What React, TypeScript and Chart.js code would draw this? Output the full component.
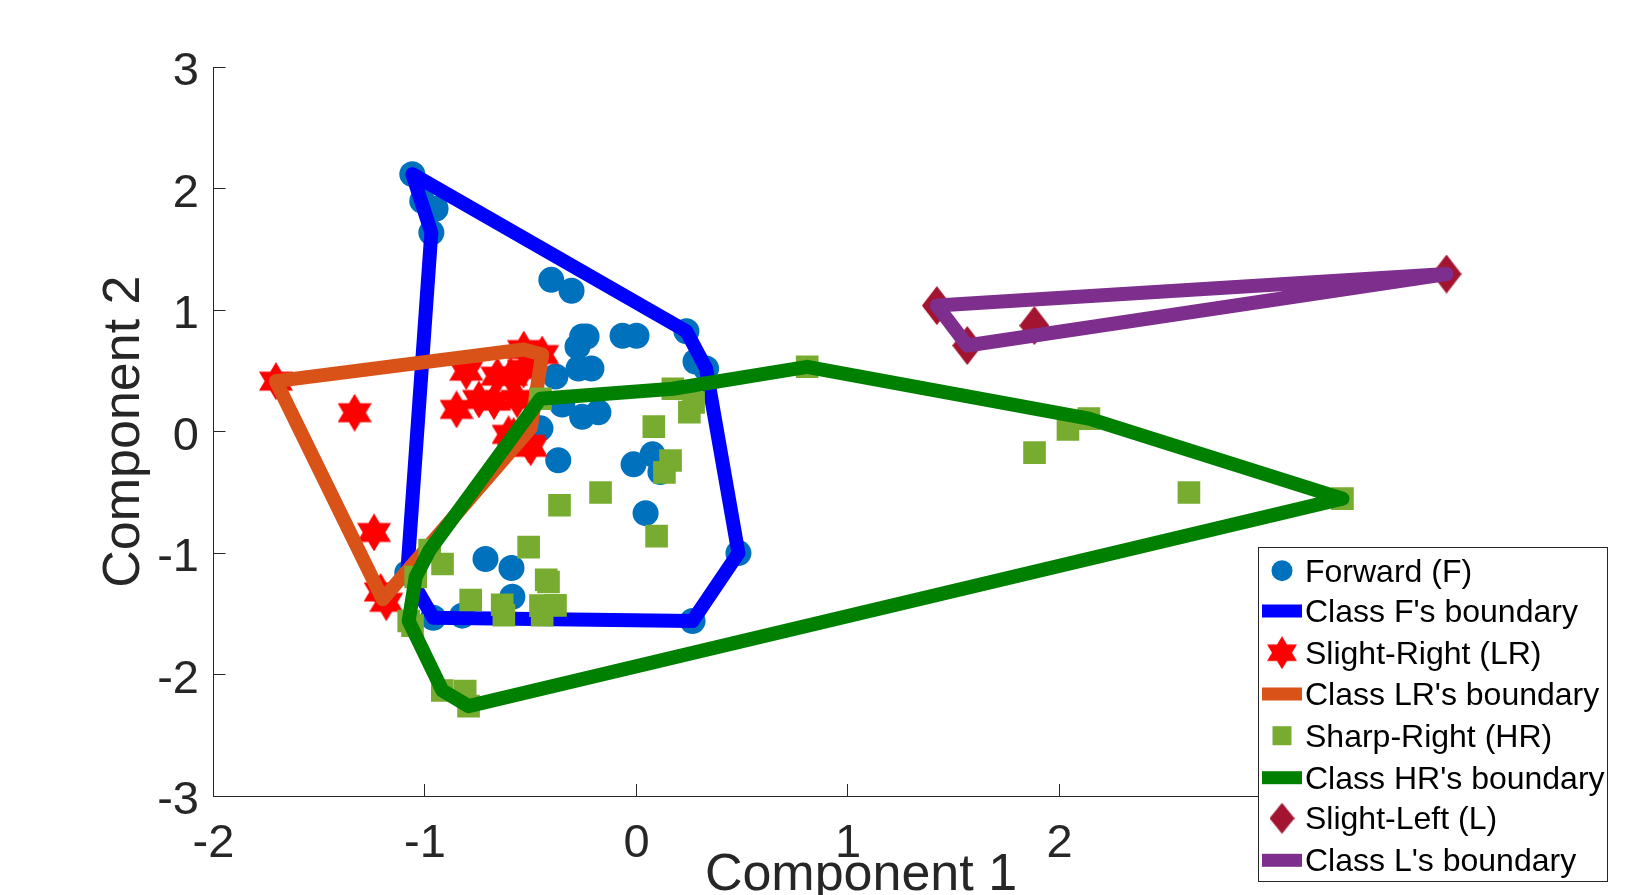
import { useEffect, useRef } from 'react';
import { Chart, registerables } from 'chart.js';
Chart.register(...registerables);

const forwardPts = [
  [-1.06, 2.12], [-1.013, 1.9], [-0.95, 1.835], [-0.97, 1.64], [-0.403, 1.25], [-0.307, 1.16],
  [-0.257, 0.783], [-0.236, 0.783], [-0.279, 0.7], [-0.274, 0.52], [-0.213, 0.52], [-0.383, 0.454],
  [-0.066, 0.79], [0, 0.79], [0.236, 0.827], [0.279, 0.578], [0.329, 0.52], [-0.351, 0.224],
  [-0.257, 0.123], [-0.18, 0.159], [-0.454, 0.027], [-0.37, -0.236], [-0.014, -0.269], [0.076, -0.187],
  [0.113, -0.332], [0.043, -0.671], [-0.714, -1.049], [-0.591, -1.123], [-0.587, -1.359], [-1.084, -1.164],
  [-0.961, -1.532], [-0.824, -1.515], [0.265, -1.559], [0.482, -1.0],
];
const forwardHull = [
  [-1.06, 2.12], [0.236, 0.827], [0.329, 0.52], [0.482, -1.0], [0.265, -1.559],
  [-0.961, -1.532], [-1.084, -1.164], [-0.97, 1.64], [-1.06, 2.12],
];

const slightRightPts = [
  [-1.705, 0.416], [-1.333, 0.156], [-0.805, 0.498], [-0.851, 0.183], [-0.745, 0.265], [-0.658, 0.457],
  [-0.674, 0.251], [-0.595, 0.457], [-0.564, 0.265], [-0.533, 0.676], [-0.446, 0.635], [-0.534, 0.512],
  [-0.581, -0.036], [-0.51, -0.104], [-0.5, -0.129], [-0.605, -0.022], [-1.241, -0.83], [-1.183, -1.405],
  [-1.21, -1.32],
];
const slightRightHull = [
  [-1.705, 0.416], [-0.533, 0.676], [-0.446, 0.635], [-0.5, 0.03], [-1.2, -1.38], [-1.705, 0.416],
];

const sharpRightPts = [
  [0.082, 0.041], [0.172, 0.353], [0.27, 0.24], [0.25, 0.161], [0.807, 0.534], [0.161, -0.238],
  [0.132, -0.335], [-0.17, -0.501], [-0.364, -0.606], [0.095, -0.86], [-0.51, -0.951], [-0.978, -0.975],
  [-0.917, -1.09], [-1.044, -1.197], [-0.784, -1.386], [-0.427, -1.219], [-0.416, -1.238], [-0.635, -1.425],
  [-0.627, -1.512], [-0.454, -1.433], [-0.383, -1.43], [-0.446, -1.512], [-1.077, -1.559], [-1.059, -1.597],
  [-0.918, -2.131], [-0.81, -2.136], [-0.794, -2.26], [-0.454, 0.271], [2.139, 0.107], [2.04, 0.019],
  [1.882, -0.173], [2.612, -0.501], [3.338, -0.551],
];
const sharpRightHull = [
  [-0.454, 0.271], [0.172, 0.353], [0.807, 0.534], [2.139, 0.107], [3.338, -0.551], [-0.794, -2.26],
  [-0.918, -2.131], [-1.077, -1.559], [-1.044, -1.197], [-0.978, -0.975], [-0.454, 0.271],
];

const slightLeftPts = [[1.42, 1.038], [1.564, 0.709], [1.881, 0.873], [3.83, 1.298]];
const slightLeftHull = [[1.42, 1.038], [3.83, 1.298], [1.564, 0.709], [1.42, 1.038]];

const legendLabels = [
  'Forward (F)', "Class F's boundary", 'Slight-Right (LR)', "Class LR's boundary",
  'Sharp-Right (HR)', "Class HR's boundary", 'Slight-Left (L)', "Class L's boundary",
];

const FONT = '"Liberation Sans", Arial, sans-serif';
const INK = '#262626';

const toXY = (pts: number[][]) => pts.map(([x, y]) => ({ x, y }));

function hexagram(w: number, h: number, color: string) {
  const c = document.createElement('canvas');
  c.width = w; c.height = h;
  const g = c.getContext('2d')!;
  g.fillStyle = color;
  g.beginPath();
  g.moveTo(w / 2, 0); g.lineTo(w, h * 0.75); g.lineTo(0, h * 0.75); g.closePath();
  g.moveTo(w / 2, h); g.lineTo(0, h * 0.25); g.lineTo(w, h * 0.25); g.closePath();
  g.fill();
  return c;
}

function diamond(w: number, h: number, color: string) {
  const c = document.createElement('canvas');
  c.width = w; c.height = h;
  const g = c.getContext('2d')!;
  g.fillStyle = color;
  g.beginPath();
  g.moveTo(w / 2, 0); g.lineTo(w, h / 2); g.lineTo(w / 2, h); g.lineTo(0, h / 2); g.closePath();
  g.fill();
  return c;
}

// matlab style legend box, sits on top of the axis
const legendBox = {
  id: 'legendBox',
  afterDraw(chart: any) {
    const ctx = chart.ctx;
    const left = 1258, top = 547, w = 350, h = 335;
    const rows = [570.7, 611, 652.7, 694, 735.7, 777.7, 818.3, 860.3];
    const star = hexagram(30, 33, '#FF0000');
    const dia = diamond(25, 31, '#A2142F');
    ctx.save();
    ctx.fillStyle = '#fff';
    ctx.strokeStyle = INK;
    ctx.lineWidth = 1;
    ctx.fillRect(left, top, w, h);
    ctx.strokeRect(left + 0.5, top + 0.5, w - 1, h - 1);
    ctx.font = `32px ${FONT}`;
    ctx.textBaseline = 'middle';
    legendLabels.forEach((label, i) => {
      const y = rows[i];
      const ds = chart.data.datasets[i];
      if (i % 2 === 1) {
        ctx.fillStyle = ds.borderColor;
        ctx.fillRect(1262, y - 6.5, 40, 13);
      } else if (i === 0) {
        ctx.fillStyle = ds.backgroundColor;
        ctx.beginPath();
        ctx.arc(1282, y, 10.5, 0, Math.PI * 2);
        ctx.fill();
      } else if (i === 2) {
        ctx.drawImage(star, 1267, y - 16.5);
      } else if (i === 4) {
        ctx.fillStyle = ds.backgroundColor;
        ctx.fillRect(1272.5, y - 9.5, 19, 19);
      } else {
        ctx.drawImage(dia, 1269.5, y - 15.5);
      }
      ctx.fillStyle = '#000';
      ctx.fillText(label, 1305, y + 2);
    });
    ctx.restore();
  },
};

export default function App() {
  const ref = useRef<HTMLCanvasElement>(null);

  useEffect(() => {
    const points = (label: string, pts: number[][], color: string, style: any, radius: number) => ({
      label, data: toXY(pts), showLine: false, pointStyle: style, pointRadius: radius,
      backgroundColor: color, borderColor: color, pointBorderWidth: 0,
    });
    const hull = (label: string, pts: number[][], color: string) => ({
      label, data: toXY(pts), showLine: true, pointRadius: 0, borderColor: color, backgroundColor: color,
      borderWidth: 14, borderJoinStyle: 'round', borderCapStyle: 'round', tension: 0,
    });

    const datasets: any[] = [
      points(legendLabels[0], forwardPts, '#0072BD', 'circle', 13),
      hull(legendLabels[1], forwardHull, '#0000FF'),
      points(legendLabels[2], slightRightPts, '#FF0000', hexagram(34, 38, '#FF0000'), 17),
      hull(legendLabels[3], slightRightHull, '#D95319'),
      points(legendLabels[4], sharpRightPts, '#77AC30', 'rect', 16),
      hull(legendLabels[5], sharpRightHull, '#008000'),
      points(legendLabels[6], slightLeftPts, '#A2142F', diamond(30, 39, '#A2142F'), 15),
      hull(legendLabels[7], slightLeftHull, '#7E2F8E'),
    ];
    // later entries sit on top, as in the original plot order
    datasets.forEach((d, i) => { d.order = datasets.length - i; });

    const axis = (text: string, padding: any) => ({
      type: 'linear',
      border: { color: INK, width: 1 },
      grid: { drawOnChartArea: false, drawTicks: true, tickLength: -12, tickColor: INK, tickWidth: 1 },
      title: { display: true, text, color: INK, padding, font: { family: FONT, size: 52, lineHeight: 1 } },
    });

    const chart = new Chart(ref.current!, {
      type: 'scatter',
      data: { datasets },
      plugins: [legendBox],
      options: {
        responsive: false,
        animation: false,
        devicePixelRatio: 1,
        layout: { padding: { top: 67.3, right: 130.5, left: 0, bottom: 0 } },
        plugins: { legend: { display: false }, tooltip: { enabled: false } },
        scales: {
          x: {
            ...axis('Component 1', { top: 0, bottom: -7 }),
            min: -2, max: 4.123,
            ticks: { stepSize: 1, color: INK, padding: 32, maxRotation: 0, font: { family: FONT, size: 47 } },
            afterFit: (s: any) => { s.height = 99; },
          },
          y: {
            ...axis('Component 2', { top: 99, bottom: 0 }),
            min: -3, max: 3,
            ticks: {
              stepSize: 1, color: INK, padding: 26.5,
              // blank first line pushes the digits down a little, like the original
              callback: (v: any) => ['', String(v)],
              font: { family: FONT, size: 47, lineHeight: '10px' },
            },
            afterFit: (s: any) => { s.width = 213.5; },
          },
        },
      } as any,
    });

    return () => { chart.destroy(); };
  }, []);

  return (
    <div style={{ position: 'fixed', left: 0, top: 0, width: 1639, height: 895, background: '#fff' }}>
      <canvas ref={ref} width={1639} height={895} style={{ display: 'block' }} />
    </div>
  );
}
